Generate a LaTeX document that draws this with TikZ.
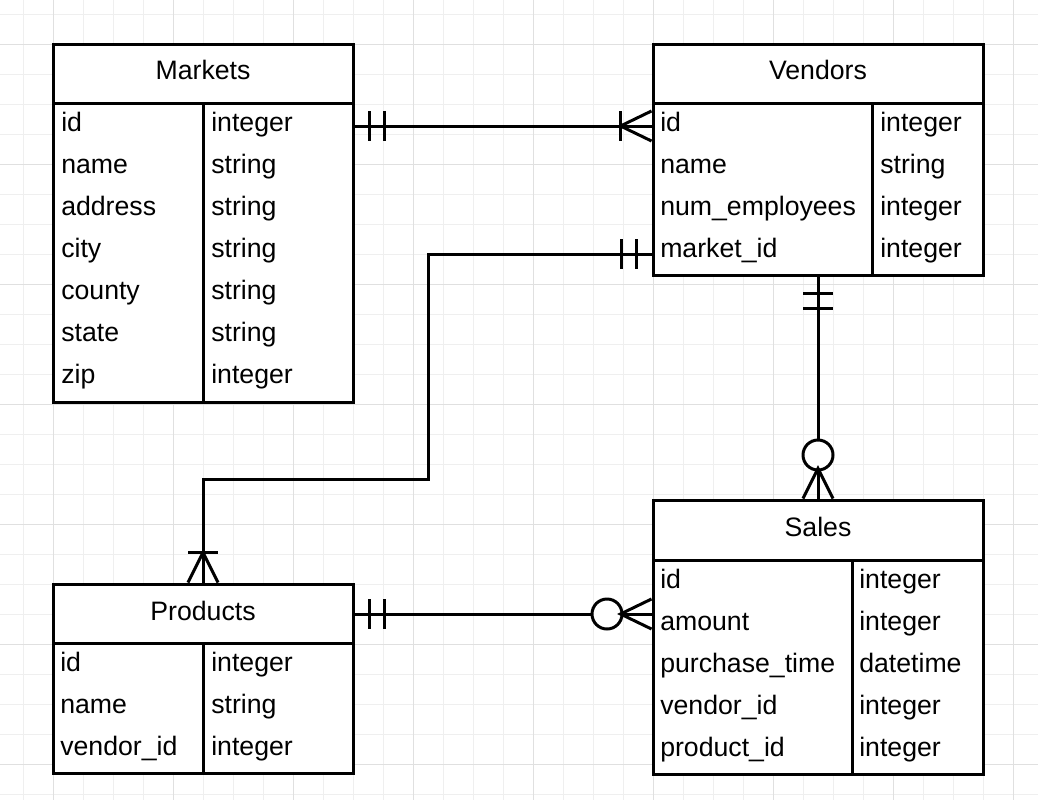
\documentclass[tikz,border=0pt]{standalone}
\usepackage{fontspec}
\setmainfont{Liberation Sans}
\usetikzlibrary{fit}
\definecolor{gridminor}{HTML}{EFEFEF}
\definecolor{gridmajor}{HTML}{E0E0E0}
\begin{document}
\begin{tikzpicture}[x=0.75pt,y=-0.75pt,
  every node/.style={font=\fontsize{20}{24}\selectfont},
  minorline/.style={draw=gridminor, line width=0.75pt},
  majorline/.style={draw=gridmajor, line width=0.75pt},
  tbl/.style={draw, fill=white, line width=2.25pt, inner sep=0pt},
  hd/.style={anchor=base, inner sep=0pt},
  fd/.style={anchor=base west, inner sep=0pt},
  rel/.style={line width=2.25pt}]
\useasboundingbox (0,0) rectangle (1038,800);
% grid
\foreach \x in {23,53,...,1033} \draw[minorline] (\x,0) -- (\x,800);
\foreach \y in {14,44,...,794} \draw[minorline] (0,\y) -- (1038,\y);
\foreach \x in {53,173,...,1013} \draw[majorline] (\x,0) -- (\x,800);
\foreach \y in {44,164,...,764} \draw[majorline] (0,\y) -- (1038,\y);
% Markets
\node[tbl, fit={(53,44) (353,402)}] (markets) {};
\draw[rel] (53,103) -- (353,103) (203,103) -- (203,402);
\node[hd] (markets-h) at (203,79) {Markets};
\foreach \f/\t [count=\i] in {id/integer, name/string, address/string, city/string,
  county/string, state/string, zip/integer} {
  \node[fd] (m\i) at (61,89+42*\i) {\f};
  \node[fd] (mt\i) at (211,89+42*\i) {\t};
}
% Vendors
\node[tbl, fit={(653,44) (983,275)}] (vendors) {};
\draw[rel] (653,103) -- (983,103) (872,103) -- (872,275);
\node[hd] (vendors-h) at (818,79) {Vendors};
\foreach \f/\t [count=\i] in {id/integer, name/string, num\_employees/integer,
  market\_id/integer} {
  \node[fd] (v\i) at (660,89+42*\i) {\f};
  \node[fd] (vt\i) at (880,89+42*\i) {\t};
}
% Sales
\node[tbl, fit={(653,500) (983,774)}] (sales) {};
\draw[rel] (653,560) -- (983,560) (852,560) -- (852,774);
\node[hd] (sales-h) at (818,536) {Sales};
\foreach \f/\t [count=\i] in {id/integer, amount/integer, purchase\_time/datetime,
  vendor\_id/integer, product\_id/integer} {
  \node[fd] (s\i) at (660,546+42*\i) {\f};
  \node[fd] (st\i) at (859,546+42*\i) {\t};
}
% Products
\node[tbl, fit={(53,584) (353,773)}] (products) {};
\draw[rel] (53,643) -- (353,643) (203,643) -- (203,773);
\node[hd] (products-h) at (203,620) {Products};
\foreach \f/\t [count=\i] in {id/integer, name/string, vendor\_id/integer} {
  \node[fd] (p\i) at (60,629+42*\i) {\f};
  \node[fd] (pt\i) at (211,629+42*\i) {\t};
}
% ends of the relations
\coordinate (mk-id) at (markets.east |- 0,126);
\coordinate (vd-id) at (vendors.west |- 0,126);
\coordinate (vd-mk) at (vendors.west |- 0,254);
\coordinate (pr-top) at (products.north);
\coordinate (vd-bot) at (vendors.south);
\coordinate (sl-top) at (sales.north);
\coordinate (pr-rt) at (products.east |- 0,614);
\coordinate (sl-lt) at (sales.west |- 0,614);
% Markets -- Vendors
\draw[rel] (mk-id) -- (vd-id);
\draw[rel] (mk-id) ++(15,-15) -- ++(0,30) ++(15,-30) -- ++(0,30);
\draw[rel] (vd-id) ++(-31,-15) -- ++(0,30);
\draw[rel] (vd-id) ++(0,-15) -- ++(-31,15) -- ++(31,15);
% Vendors -- Products
\draw[rel] (vd-mk) -| (428,479) -| (pr-top);
\draw[rel] (vd-mk) ++(-15,-15) -- ++(0,30) ++(-15,-30) -- ++(0,30);
\draw[rel] (pr-top) ++(-15,-30) -- ++(30,0);
\draw[rel] (pr-top) ++(-15,0) -- ++(15,-30) -- ++(15,30);
% Vendors -- Sales
\draw[rel] (vd-bot) -- (sl-top);
\draw[rel] (vd-bot) ++(-15,17) -- ++(30,0) ++(-30,15) -- ++(30,0);
\draw[rel, fill=white] (818,455) circle[radius=15];
\draw[rel] (sl-top) ++(-15,0) -- ++(15,-30) -- ++(15,30);
% Products -- Sales
\draw[rel] (pr-rt) -- (sl-lt);
\draw[rel] (pr-rt) ++(15,-15) -- ++(0,30) ++(15,-30) -- ++(0,30);
\draw[rel, fill=white] (607,614) circle[radius=15];
\draw[rel] (sl-lt) ++(0,-15) -- ++(-31,15) -- ++(31,15);
\end{tikzpicture}
\end{document}
